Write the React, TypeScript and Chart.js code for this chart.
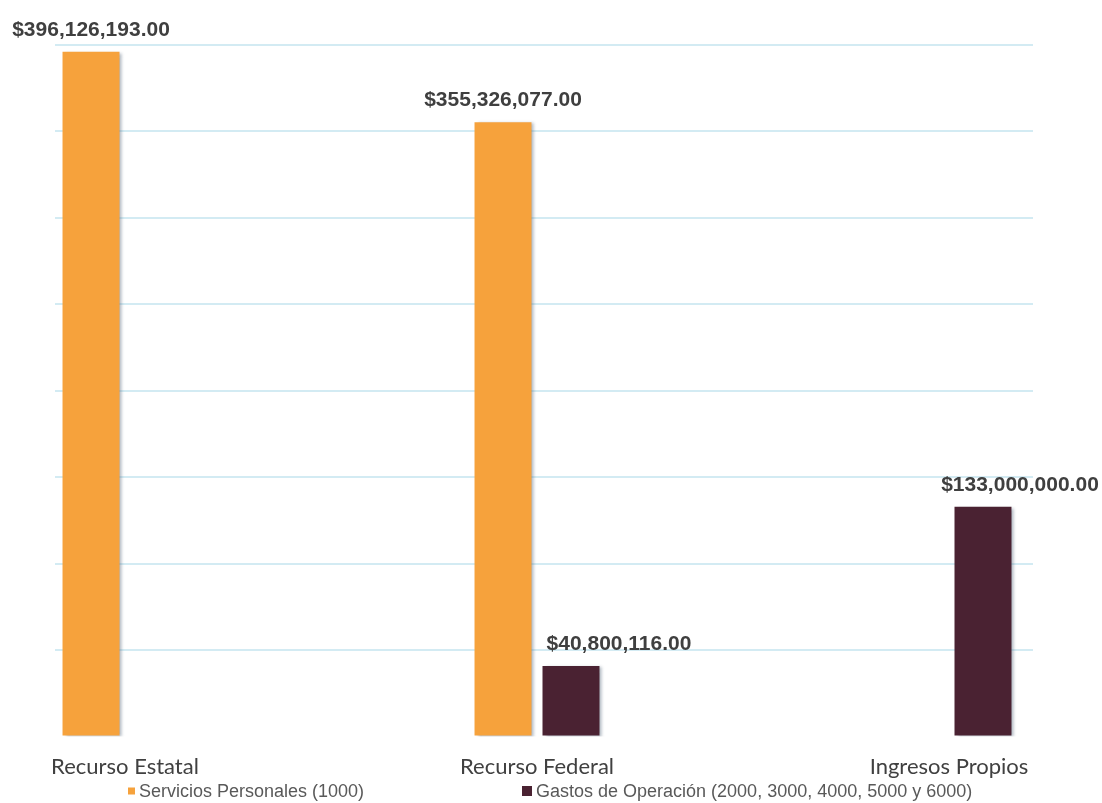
import React, { useEffect, useRef } from "react";
import { Chart, registerables } from "chart.js";

Chart.register(...registerables);

const categories = ["Recurso Estatal", "Recurso Federal", "Ingresos Propios"];
const seriesNames = [
  "Servicios Personales (1000)",
  "Gastos de Operación (2000, 3000, 4000, 5000 y 6000)",
];
const serviciosPersonales: (number | null)[] = [396126193, 355326077, null];
const gastosOperacion: (number | null)[] = [null, 40800116, 133000000];
const yMax = 400000000;
const yStep = 50000000;

const seriesColors = ["#F6A23C", "#4A2232"];

const fmt = (v: number) =>
  "$" +
  v.toLocaleString("en-US", { minimumFractionDigits: 2, maximumFractionDigits: 2 });

export default function App() {
  const ref = useRef<HTMLCanvasElement | null>(null);

  useEffect(() => {
    document.body.style.margin = "0";
    const canvas = ref.current;
    if (!canvas) return;

    const shadowPlugin = {
      id: "barShadow",
      beforeDatasetsDraw(chart: any) {
        const ctx = chart.ctx;
        ctx.save();
        ctx.shadowColor = "rgba(80,100,120,0.45)";
        ctx.shadowOffsetX = 3;
        ctx.shadowOffsetY = 1;
        ctx.shadowBlur = 3;
      },
      afterDatasetsDraw(chart: any) {
        chart.ctx.restore();
      },
    };

    const labelShift = [
      [0, 0, 0],
      [0, 48, 37],
    ];

    const labelsPlugin = {
      id: "valueLabels",
      afterDraw(chart: any) {
        const ctx = chart.ctx;
        ctx.save();
        ctx.font = "bold 21px 'Liberation Sans', Arial, sans-serif";
        ctx.fillStyle = "#3F3F3F";
        ctx.textAlign = "center";
        ctx.textBaseline = "alphabetic";
        chart.data.datasets.forEach((ds: any, di: number) => {
          const meta = chart.getDatasetMeta(di);
          meta.data.forEach((el: any, i: number) => {
            const v = ds.data[i].y;
            if (v == null) return;
            ctx.fillText(fmt(v), el.x + labelShift[di][i], el.y - 16);
          });
        });

        // legend
        ctx.font = "18px 'Liberation Sans', Arial, sans-serif";
        ctx.textAlign = "left";
        ctx.textBaseline = "middle";
        const legendY = 791;
        const items = [
          { x: 128, size: 7, text: seriesNames[0], color: seriesColors[0] },
          { x: 522, size: 10, text: seriesNames[1], color: seriesColors[1] },
        ];
        items.forEach((it) => {
          ctx.fillStyle = it.color;
          ctx.fillRect(it.x, legendY - it.size / 2, it.size, it.size);
          ctx.fillStyle = "#595959";
          ctx.fillText(it.text, it.x + it.size + 4, legendY + 1);
        });
        ctx.restore();
      },
    };

    const chart = new Chart(canvas, {
      type: "bar",
      data: {
        datasets: [
          {
            label: seriesNames[0],
            data: serviciosPersonales.map((v, i) => ({ x: i, y: v })),
            backgroundColor: seriesColors[0],
            borderWidth: 0,
          },
          {
            label: seriesNames[1],
            data: gastosOperacion.map((v, i) => ({ x: i, y: v })),
            backgroundColor: seriesColors[1],
            borderWidth: 0,
          },
        ],
      } as any,
      options: {
        responsive: false,
        animation: false,
        categoryPercentage: 0.33,
        barPercentage: 0.838,
        layout: { padding: { left: 55, right: 69, top: 45, bottom: 6 } },
        plugins: {
          legend: { display: false },
          tooltip: { enabled: false },
        },
        scales: {
          x: {
            type: "linear",
            offset: false,
            min: -0.1699,
            max: 2.2039,
            grid: { display: false, drawTicks: false, offset: false },
            border: { display: false },
            afterBuildTicks: (scale: any) => {
              scale.ticks = categories.map((_, i) => ({ value: i }));
            },
            ticks: {
              autoSkip: false,
              maxRotation: 0,
              padding: 17,
              color: "#404040",
              font: { family: "Lato, 'Open Sans', sans-serif", size: 22 },
              callback: (v: any) => categories[Number(v)] ?? "",
            },
          },
          y: {
            min: 0,
            max: yMax,
            ticks: { display: false, stepSize: yStep },
            grid: {
              drawTicks: false,
              lineWidth: 2,
              color: (ctx: any) =>
                ctx.tick && ctx.tick.value === 0 ? "rgba(0,0,0,0)" : "#D3EBF3",
            },
            border: { display: false },
          },
        },
      } as any,
      plugins: [shadowPlugin, labelsPlugin],
    });

    return () => chart.destroy();
  }, []);

  return (
    <div style={{ width: 1102, height: 803, background: "#fff" }}>
      <canvas ref={ref} width={1102} height={803} style={{ display: "block" }} />
    </div>
  );
}
